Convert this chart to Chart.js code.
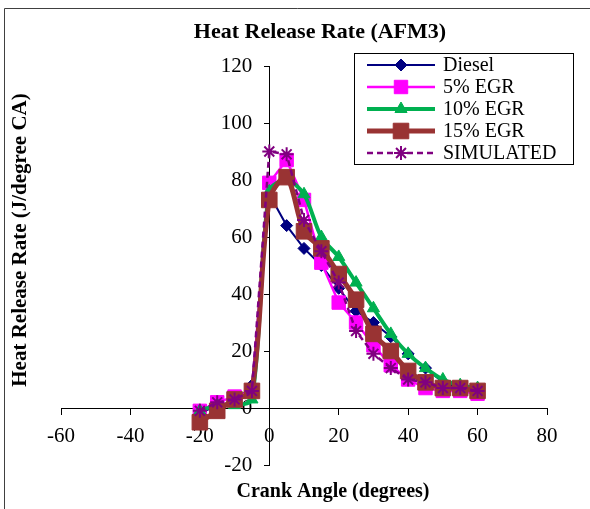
<!DOCTYPE html>
<html>
<head>
<meta charset="utf-8">
<script src="https://cdn.jsdelivr.net/npm/chart.js@4/dist/chart.umd.min.js"></script>
<style>
  html, body { margin: 0; padding: 0; background: #fff; }
  #wrap { width: 590px; height: 509px; position: relative; }
</style>
</head>
<body>
<div id="wrap"><canvas id="c" width="590" height="509"></canvas></div>
<script>
// ---- data ----
const crankAngle = [-20, -15, -10, -5, 0, 5, 10, 15, 20, 25, 30, 35, 40, 45, 50, 55, 60];
const diesel     = [-2, 1, 2, 8, 75, 64, 56, 50, 42, 34, 30, 25, 19, 14, 9, 7, 6];
const egr5       = [-1, 2, 4, 6, 79, 87, 73, 51, 37, 30, 22, 15, 10, 7, 6, 6, 5];
const egr10      = [-1, 1, 1, 3, 76, 80, 75, 60, 53, 44, 35, 26, 19, 14, 10, 8, 7];
const egr15      = [-5, -1, 3, 6, 73, 81, 62, 56, 47, 38, 26, 20, 13, 9, 7, 7, 6];
const simulated  = [-1, 2, 3, 6, 90, 89, 66, 55, 44, 27, 19, 14, 10, 9, 7, 7, 6];
const seriesNames = ['Diesel', '5% EGR', '10% EGR', '15% EGR', 'SIMULATED'];
const xTicks = [-60, -40, -20, 0, 20, 40, 60, 80];
const yTicks = [-20, 0, 20, 40, 60, 80, 100, 120];
const chartTitle = 'Heat Release Rate (AFM3)';
const xTitle = 'Crank Angle (degrees)';
const yTitle = 'Heat Release Rate (J/degree CA)';

const SERIF = '"Liberation Serif", "Times New Roman", serif';
const pts = arr => arr.map((v, i) => ({ x: crankAngle[i], y: v }));

// linear scale whose tick labels sit left of an axis placed at x = 0
class CrossLinear extends Chart.LinearScale {
  _computeLabelItems(chartArea) {
    const items = super._computeLabelItems(chartArea);
    if (this.axis === 'y') {
      const shift = (this.options.grid.tickLength || 0) + (this.options.ticks.padding || 0);
      items.forEach(it => { it.options.translation[0] -= shift; it.options.textAlign = 'right'; });
    }
    return items;
  }
}
CrossLinear.id = 'crossLinear';
CrossLinear.defaults = Chart.LinearScale.defaults;
Chart.register(CrossLinear);

const datasets = [
  { label: seriesNames[0], data: pts(diesel), borderColor: '#000080', backgroundColor: '#000080',
    borderWidth: 2, pointStyle: 'rectRot', pointRadius: 6, pointBorderWidth: 1, tension: 0, order: 4 },
  { label: seriesNames[1], data: pts(egr5), borderColor: '#FF00FF', backgroundColor: '#FF00FF',
    borderWidth: 2.5, pointStyle: 'rect', pointRadius: 9.5, pointBorderWidth: 1, tension: 0, order: 3 },
  { label: seriesNames[2], data: pts(egr10), borderColor: '#00B050', backgroundColor: '#00B050',
    borderWidth: 4, pointStyle: 'triangle', pointRadius: 7, pointBorderWidth: 1, tension: 0.3, order: 2 },
  { label: seriesNames[3], data: pts(egr15), borderColor: '#993333', backgroundColor: '#993333',
    borderWidth: 5, pointStyle: 'rect', pointRadius: 11, pointBorderWidth: 1, tension: 0.3, order: 1 },
  { label: seriesNames[4], data: pts(simulated), borderColor: '#800080', backgroundColor: '#800080',
    borderWidth: 2.5, borderDash: [6, 4], pointStyle: 'star', pointRadius: 7, pointBorderWidth: 2, tension: 0, order: 0 }
];

function drawMarker(ctx, ds, x, y) {
  const opts = { pointStyle: ds.pointStyle, radius: ds.pointRadius, rotation: 0, borderWidth: ds.pointBorderWidth };
  ctx.save();
  ctx.fillStyle = ds.backgroundColor;
  ctx.strokeStyle = ds.borderColor;
  ctx.lineWidth = ds.pointBorderWidth;
  ctx.setLineDash([]);
  if (Chart.helpers && Chart.helpers.drawPoint) {
    Chart.helpers.drawPoint(ctx, opts, x, y);
  } else {
    ctx.beginPath(); ctx.arc(x, y, ds.pointRadius, 0, Math.PI * 2); ctx.fill(); ctx.stroke();
  }
  ctx.restore();
}

const decor = {
  id: 'decor',
  beforeDraw(chart) {
    const ctx = chart.ctx;
    ctx.save();
    ctx.fillStyle = '#fff';
    ctx.fillRect(0, 0, chart.width, chart.height);
    ctx.strokeStyle = '#404040';
    ctx.lineWidth = 1;
    ctx.beginPath();
    ctx.moveTo(4.5, chart.height);
    ctx.lineTo(4.5, 8.5);
    ctx.lineTo(chart.width, 8.5);
    ctx.stroke();
    ctx.restore();
  },
  afterDraw(chart) {
    const ctx = chart.ctx;
    ctx.save();
    ctx.fillStyle = '#000';
    ctx.textAlign = 'center';
    ctx.textBaseline = 'middle';
    ctx.font = 'bold 22px ' + SERIF;
    ctx.fillText(chartTitle, 320, 32);
    ctx.font = 'bold 20px ' + SERIF;
    ctx.fillText(xTitle, 333, 492);
    ctx.save();
    ctx.translate(21, 240);
    ctx.rotate(-Math.PI / 2);
    ctx.font = 'bold 21px ' + SERIF;
    ctx.fillText(yTitle, 0, 0);
    ctx.restore();

    // legend box
    const L = 354.5, T = 53.5, R = 573.5, B = 164.5;
    ctx.fillStyle = '#fff';
    ctx.fillRect(L, T, R - L, B - T);
    ctx.strokeStyle = '#000';
    ctx.lineWidth = 1;
    ctx.strokeRect(L, T, R - L, B - T);
    const ds = chart.data.datasets;
    ds.forEach((d, i) => {
      const y = 65 + i * 22;
      ctx.save();
      ctx.strokeStyle = d.borderColor;
      ctx.lineWidth = d.borderWidth;
      ctx.setLineDash(d.borderDash || []);
      ctx.beginPath();
      ctx.moveTo(367, y);
      ctx.lineTo(435, y);
      ctx.stroke();
      ctx.restore();
      drawMarker(ctx, d, 401, y);
      ctx.fillStyle = '#000';
      ctx.textAlign = 'left';
      ctx.textBaseline = 'middle';
      ctx.font = '20px ' + SERIF;
      ctx.fillText(d.label, 443, y + 1);
    });
    ctx.restore();
  }
};

new Chart(document.getElementById('c'), {
  type: 'line',
  data: { datasets },
  options: {
    responsive: false,
    animation: false,
    devicePixelRatio: 1,
    layout: { padding: { left: 61, right: 43, top: 66, bottom: 44 } },
    plugins: { legend: { display: false }, tooltip: { enabled: false }, title: { display: false } },
    scales: {
      x: {
        type: 'linear', min: -60, max: 80, position: { y: 0 },
        afterBuildTicks: s => { s.ticks = xTicks.map(v => ({ value: v })); },
        ticks: { color: '#000', font: { family: SERIF, size: 21 }, padding: 10, maxRotation: 0, autoSkip: false },
        grid: { drawOnChartArea: false, drawTicks: true, tickLength: 6, color: '#000', tickWidth: 1 },
        border: { color: '#000', width: 1 }
      },
      y: {
        type: 'crossLinear', min: -20, max: 120, position: { x: 0 },
        afterBuildTicks: s => { s.ticks = yTicks.map(v => ({ value: v })); },
        ticks: { color: '#000', font: { family: SERIF, size: 21 }, padding: 12, autoSkip: false },
        grid: { drawOnChartArea: false, drawTicks: true, tickLength: 5, color: '#000', tickWidth: 1 },
        border: { color: '#000', width: 1 }
      }
    },
    elements: { line: { fill: false } }
  },
  plugins: [decor]
});
</script>
</body>
</html>
